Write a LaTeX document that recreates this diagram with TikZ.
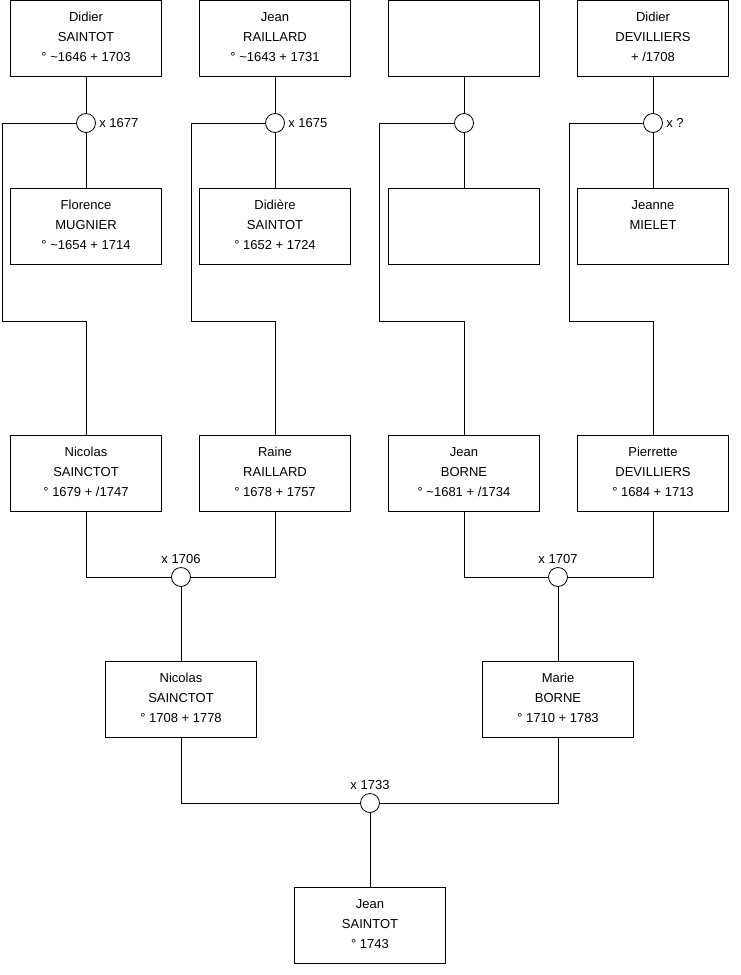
\documentclass[tikz,border=0pt]{standalone}
\usepackage{fontspec}
\setmainfont{Liberation Sans}
\usetikzlibrary{positioning}

\begin{document}
\begin{tikzpicture}[x=1pt,y=-1pt,line width=0.8pt,
  person/.style={draw,minimum width=151pt,minimum height=76pt,inner sep=0pt,align=center,
    font=\fontsize{13}{20}\selectfont,text height=49.5pt,text depth=3.5pt},
  union/.style={draw,circle,fill=white,minimum size=19pt,inner sep=0pt},
  year/.style={font=\fontsize{13}{15}\selectfont,inner sep=1pt}]
\useasboundingbox (0,0) rectangle (740,975);
% first generation
\node[person] (p1) at (86,38.5) {Didier\\SAINTOT\\° \textasciitilde1646 + 1703};
\node[person] (p2) at (275,38.5) {Jean\\RAILLARD\\° \textasciitilde1643 + 1731};
\node[person] (p3) at (464,38.5) {};
\node[person] (p4) at (653,38.5) {Didier\\DEVILLIERS\\+ /1708};
\node[person] (p5) at (86,226.5) {Florence\\MUGNIER\\° \textasciitilde1654 + 1714};
\node[person] (p6) at (275,226.5) {Didière\\SAINTOT\\° 1652 + 1724};
\node[person] (p7) at (464,226.5) {};
\node[person] (p8) at (653,226.5) {Jeanne\\MIELET\\\mbox{}};
\node[union] (m1) at (86,123) {};
\node[union] (m2) at (275,123) {};
\node[union] (m3) at (464,123) {};
\node[union] (m4) at (653,123) {};
\node[year,right=2pt of m1] (y1) {x 1677};
\node[year,right=2pt of m2] (y2) {x 1675};
\node[year,right=2pt of m4] (y4) {x ?};
% second generation
\node[person] (g1) at (86,473) {Nicolas\\SAINCTOT\\° 1679 + /1747};
\node[person] (g2) at (275,473) {Raine\\RAILLARD\\° 1678 + 1757};
\node[person] (g3) at (464,473) {Jean\\BORNE\\° \textasciitilde1681 + /1734};
\node[person] (g4) at (653,473) {Pierrette\\DEVILLIERS\\° 1684 + 1713};
\node[union] (m5) at (181,577) {};
\node[union] (m6) at (558,577) {};
\node[year,above=2pt of m5] (y5) {x 1706};
\node[year,above=2pt of m6] (y6) {x 1707};
% third generation
\node[person] (c1) at (181,699) {Nicolas\\SAINCTOT\\° 1708 + 1778};
\node[person] (c2) at (558,699) {Marie\\BORNE\\° 1710 + 1783};
\node[union] (m7) at (370,803) {};
\node[year,above=2pt of m7] (y7) {x 1733};
\node[person] (j1) at (370,925.5) {Jean\\SAINTOT\\° 1743};
% bends
\coordinate (k1) at (2,321);
\coordinate (k2) at (191,321);
\coordinate (k3) at (379,321);
\coordinate (k4) at (569,321);
% links
\draw (p1) -- (m1) -- (p5);
\draw (p2) -- (m2) -- (p6);
\draw (p3) -- (m3) -- (p7);
\draw (p4) -- (m4) -- (p8);
\draw (m1) -| (k1) -| (g1);
\draw (m2) -| (k2) -| (g2);
\draw (m3) -| (k3) -| (g3);
\draw (m4) -| (k4) -| (g4);
\draw (g1) |- (m5) -| (g2);
\draw (g3) |- (m6) -| (g4);
\draw (m5) -- (c1);
\draw (m6) -- (c2);
\draw (c1) |- (m7) -| (c2);
\draw (m7) -- (j1);
\end{tikzpicture}
\end{document}
